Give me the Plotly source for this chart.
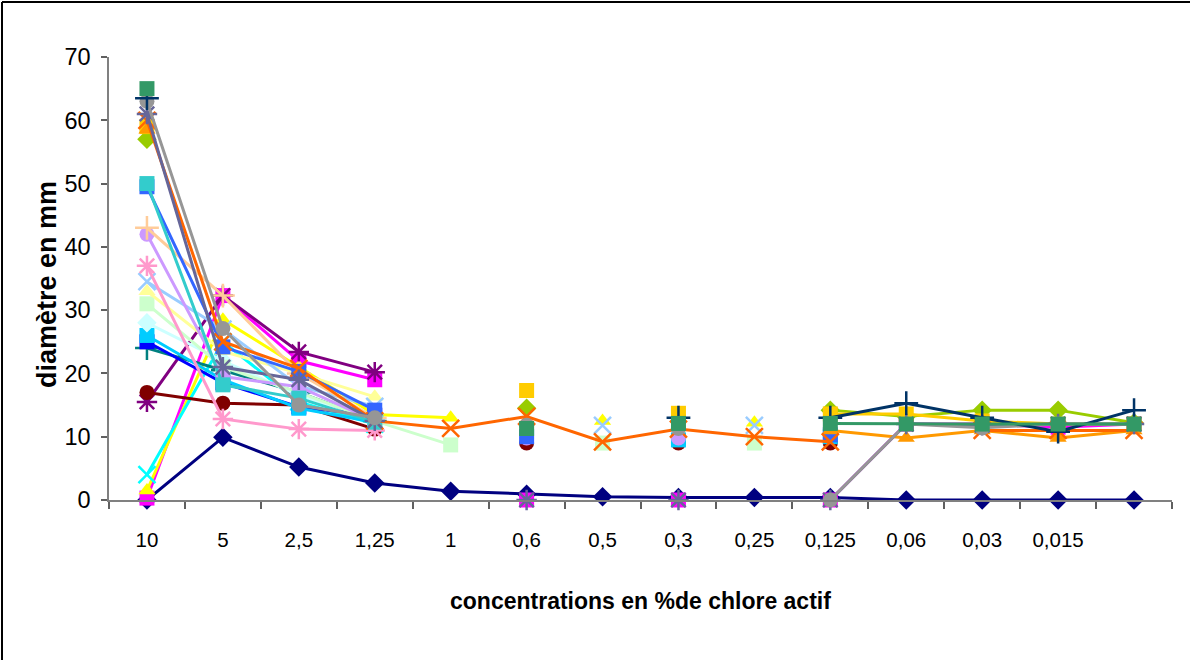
import plotly.graph_objects as go

categories = ["10", "5", "2,5", "1,25", "1", "0,6", "0,5", "0,3", "0,25", "0,125", "0,06", "0,03", "0,015", ""]
N = None

s01 = [0, 9.9, 5.2, 2.7, 1.4, 0.9, 0.5, 0.4, 0.4, 0.4, 0, 0, 0, 0]
s02 = [0.3, 32.3, 22, 19, N, 0, N, 0, N, 0, 12, 12, 11.5, 12]
s03 = [1.5, 28.5, 21, 13.5, 13, N, 12.5, N, 12.2, N, N, N, N, N]
s04 = [4, 25, 15.5, 12, N, N, N, N, N, N, N, N, N, N]
s05 = [15.5, 32.3, 23.4, 20.2, N, N, N, N, N, N, N, N, N, N]
s06 = [17, 15.3, 15, 11.2, N, 9, N, 9, N, 9, N, N, N, N]
s07 = [24, 20.5, 17, 12.5, N, N, N, N, N, N, N, N, N, N]
s08 = [25, 18.5, 14.7, 13.4, N, N, N, N, N, N, N, N, N, N]
s09 = [26, 19, 14.5, 12.3, N, N, N, 9.5, N, 10, N, N, N, N]
s10 = [28, 22, 16.5, 13, N, N, N, N, N, N, N, N, N, N]
s11 = [31, 21, 17, 12.5, 8.7, N, 9, N, 9, N, N, N, N, N]
s12 = [33, 23.5, 20, 16.3, N, N, N, N, N, N, N, N, N, N]
s13 = [34.5, 27, 18, 14.8, N, N, 11.8, N, 11.8, N, N, N, N, N]
s14 = [37, 12.8, 11.2, 11, N, N, N, N, N, N, N, N, N, N]
s15 = [42, 19.5, 17.9, 12.5, N, 9.8, N, 9.8, N, N, N, N, N, N]
s16 = [43, 32.3, 20, 13, N, N, N, N, N, N, N, N, N, N]
s17 = [49.5, 24.2, 20.3, 14.2, N, 10, N, N, N, 10.3, N, N, N, N]
s18 = [50, 18.2, 16.1, 12.3, N, N, N, N, N, N, N, N, N, N]
s19 = [57, N, N, N, N, 14.5, N, N, N, 14.2, 13.2, 14.2, 14.2, 12.2]
s20 = [59, N, N, N, N, 17.3, N, 13.7, N, 13.6, 13.6, 12.5, 12, 12]
s21 = [58.5, N, N, N, N, N, N, N, N, 11, 9.8, 11, 9.8, 11]
s22 = [60, 25, 20.8, 12.5, 11.3, 13.2, 9.2, 11.2, 10, 9.2, N, 11, 11, 11]
s23 = [61, 21, 19, 12.5, N, 0, N, 0, N, 0, 12, 11.8, 12, 12]
s24 = [63, 27.1, 15, 13, N, 11.8, N, 11.3, N, 0, 12, 11.4, 12, 12]
s25 = [63.5, N, N, N, N, N, N, 13, N, 13, 15.3, 13, 10.8, 14.2]
s26 = [65, N, N, N, N, 11.3, N, 12.1, N, 12.1, 12, 12, 12, 12]

series_values = [s01, s02, s03, s04, s05, s06, s07, s08, s09, s10, s11, s12, s13,
                 s14, s15, s16, s17, s18, s19, s20, s21, s22, s23, s24, s25, s26]
series_colors = ["#000080", "#FF00FF", "#FFFF00", "#00FFFF", "#800080", "#800000", "#008080",
                 "#0000FF", "#00CCFF", "#CCFFFF", "#CCFFCC", "#FFFF99", "#99CCFF", "#FF99CC",
                 "#CC99FF", "#FFCC99", "#3366FF", "#33CCCC", "#99CC00", "#FFCC00", "#FF9900",
                 "#FF6600", "#666699", "#969696", "#003366", "#339966"]
marker_cycle = ["diamond", "square", "triangle-up", "x-thin", "asterisk", "circle",
                "cross-thin", "square", "square"]

y_ticks = [0, 10, 20, 30, 40, 50, 60, 70]
x_title = "concentrations en %de chlore actif"
y_title = "diamètre en mm"

FONT = "Liberation Sans, Arial, sans-serif"

fig = go.Figure()
xs = list(range(len(categories)))
for i, (vals, col) in enumerate(zip(series_values, series_colors)):
    sym = marker_cycle[i % len(marker_cycle)]
    thin = sym in ("x-thin", "asterisk", "cross-thin")
    fig.add_trace(go.Scatter(
        x=xs, y=vals, mode="lines+markers",
        line=dict(color=col, width=3),
        marker=dict(symbol=sym, size=17 if thin else 15, color=col,
                    line=dict(color=col, width=2.5 if thin else 0)),
        showlegend=False, connectgaps=False, cliponaxis=False,
    ))

L, R, T, B = 109, 1172, 57, 500
W, H = 1190, 660

fig.update_layout(
    width=W, height=H,
    margin=dict(l=L, r=W - R, t=T, b=H - B),
    paper_bgcolor="white", plot_bgcolor="white",
    font=dict(family=FONT, color="black"),
    xaxis=dict(
        range=[-0.5, len(categories) - 0.5],
        tickmode="array", tickvals=xs, ticktext=categories,
        ticks="", showgrid=False, zeroline=False,
        showline=True, linecolor="#808080", linewidth=2,
        tickfont=dict(size=20.5, family=FONT),
        ticklabelstandoff=20,
        minor=dict(tick0=-0.5, dtick=1, ticks="outside", ticklen=7,
                   tickcolor="#606060", tickwidth=1.5, showgrid=False),
    ),
    yaxis=dict(
        range=[0, 70], tickmode="array", tickvals=y_ticks,
        ticks="outside", ticklen=6, tickcolor="#606060", tickwidth=1.5,
        showgrid=False, zeroline=False,
        showline=True, linecolor="#808080", linewidth=1.5,
        tickfont=dict(size=23.5, family=FONT),
        ticklabelstandoff=6,
    ),
    annotations=[
        dict(text=f"<b>{x_title}</b>", xref="paper", yref="paper",
             x=0.5, y=(B - 601) / (B - T), xanchor="center", yanchor="middle",
             showarrow=False, font=dict(size=23, family=FONT)),
        dict(text=f"<b>{y_title}</b>", xref="paper", yref="paper",
             x=(47 - L) / (R - L), y=(B - 285) / (B - T), xanchor="center", yanchor="middle",
             textangle=-90, showarrow=False, font=dict(size=27, family=FONT)),
    ],
    shapes=[
        dict(type="line", xref="paper", yref="paper",
             x0=(2 - L) / (R - L), x1=(2 - L) / (R - L),
             y0=(B - 2) / (B - T), y1=(B - H - 5) / (B - T),
             line=dict(color="black", width=2)),
        dict(type="line", xref="paper", yref="paper",
             x0=(2 - L) / (R - L), x1=(W + 5 - L) / (R - L),
             y0=(B - 2) / (B - T), y1=(B - 2) / (B - T),
             line=dict(color="black", width=2)),
    ],
)

fig.write_html("out.html")
